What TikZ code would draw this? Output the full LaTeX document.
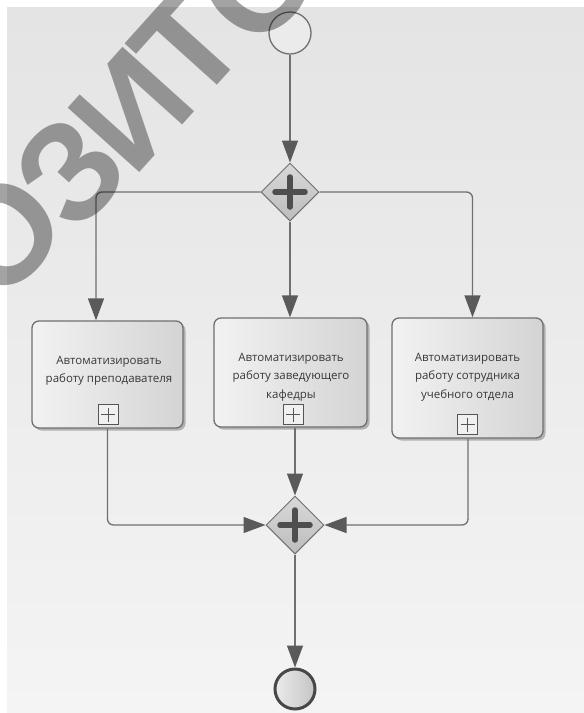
\documentclass[tikz,border=0pt]{standalone}
\usepackage{fontspec}
\setmainfont{Open Sans}
\newfontfamily\wmfont{Liberation Sans}
\usetikzlibrary{shapes.geometric,arrows.meta,shadows,calc}

\definecolor{bgtop}{HTML}{E4E4E4}
\definecolor{bgbot}{HTML}{F4F4F4}
\definecolor{linec}{HTML}{707070}
\definecolor{tipc}{HTML}{5A5A5A}
\definecolor{plusc}{HTML}{4E4E4E}
\definecolor{markc}{HTML}{555555}
\definecolor{textc}{HTML}{383838}

\tikzset{
  flow/.style={draw=linec, line width=1.3pt, rounded corners=6pt,
    -{Triangle[length=22pt,width=16pt,color=tipc]}},
  startev/.style={circle, draw=linec, line width=1.3pt, fill=white!92!black,
    minimum size=42pt, inner sep=0pt},
  endev/.style={circle, draw=black!72, line width=3pt, left color=white!92!black,
    right color=white!77!black, minimum size=40pt, inner sep=0pt},
  gate/.style={diamond, aspect=1, draw=linec, line width=1pt, inner sep=0pt,
    minimum width=58pt, minimum height=58pt,
    top color=white!85!black, bottom color=white!74!black,
    path picture={
      \draw[plusc, line width=5.5pt, line cap=round]
        ([xshift=-15pt]path picture bounding box.center) --
        ([xshift=15pt]path picture bounding box.center)
        ([yshift=-15pt]path picture bounding box.center) --
        ([yshift=15pt]path picture bounding box.center);}},
  task/.style={rectangle, rounded corners=7pt, draw=linec, line width=1.3pt,
    left color=white!95!black, right color=white!83!black, inner sep=0pt,
    drop shadow={shadow xshift=2.5pt, shadow yshift=-2.5pt, fill=black, opacity=0.25}},
  tasktext/.style={align=center, text=textc, inner sep=0pt,
    font=\fontsize{11.5}{18.5}\selectfont},
  marker/.style={rectangle, draw=markc, line width=1pt, fill=white!94!black,
    minimum width=20pt, minimum height=20pt, inner sep=0pt,
    path picture={
      \draw[markc, line width=0.9pt]
        ([xshift=3pt]path picture bounding box.west) --
        ([xshift=-3pt]path picture bounding box.east)
        ([yshift=-3pt]path picture bounding box.north) --
        ([yshift=3pt]path picture bounding box.south);}},
  wm/.style={rotate=48, inner sep=0pt, text=black, text opacity=0.36,
    font=\wmfont\bfseries\fontsize{140}{140}\selectfont}
}

\begin{document}
\begin{tikzpicture}[x=1pt, y=-1pt]
  \useasboundingbox (0,0) rectangle (584,713);
  % canvas
  \shade[top color=bgtop, bottom color=bgbot] (7,7) rectangle (584,713);

  % events and gateways
  \node[startev] (start) at (290,33) {};
  \node[gate] (g1) at (290,192) {};
  \node[gate] (g2) at (295,525) {};
  \node[endev] (end) at (295,689) {};

  % sub-process tasks
  \node[task, minimum width=151pt, minimum height=107pt] (t1) at (107.5,374.5) {};
  \node[task, minimum width=153pt, minimum height=109pt] (t2) at (290.5,372.5) {};
  \node[task, minimum width=151pt, minimum height=120pt] (t3) at (467.5,378) {};

  \node[tasktext] (l1) at (109,371) {Автоматизировать\\работу преподавателя};
  \node[tasktext] (l2) at (291,377) {Автоматизировать\\работу заведующего\\кафедры};
  \node[tasktext] (l3) at (467.5,377) {Автоматизировать\\работу сотрудника\\учебного отдела};

  \node[marker] (m1) at (108,414.5) {};
  \node[marker] (m2) at (293,414.5) {};
  \node[marker] (m3) at (467.5,424.5) {};

  % sequence flows
  \draw[flow] (start.south) -- (g1.north);
  \draw[flow] (g1.west) -| ([xshift=-11.5pt]t1.north);
  \draw[flow] (g1.south) -- (g1.south |- t2.north);
  \draw[flow] (g1.east) -| ([xshift=5pt]t3.north);
  \draw[flow] (t1.south) |- (g2.west);
  \draw[flow] (t2.south -| g2.north) -- (g2.north);
  \draw[flow] ([xshift=0.5pt]t3.south) |- (g2.east);
  \draw[flow] (g2.south) -- (end.north);

  % watermark
  \begin{scope}
    \clip (0,0) rectangle (584,713);
    \node[wm] (wm1) at (2,235) {О};
    \node[wm] (wm2) at (70,172) {З};
    \node[wm] (wm3) at (131,110) {И};
    \node[wm] (wm4) at (188,45) {Т};
    \node[wm] (wm5) at (258,-18) {О};
  \end{scope}
\end{tikzpicture}
\end{document}
